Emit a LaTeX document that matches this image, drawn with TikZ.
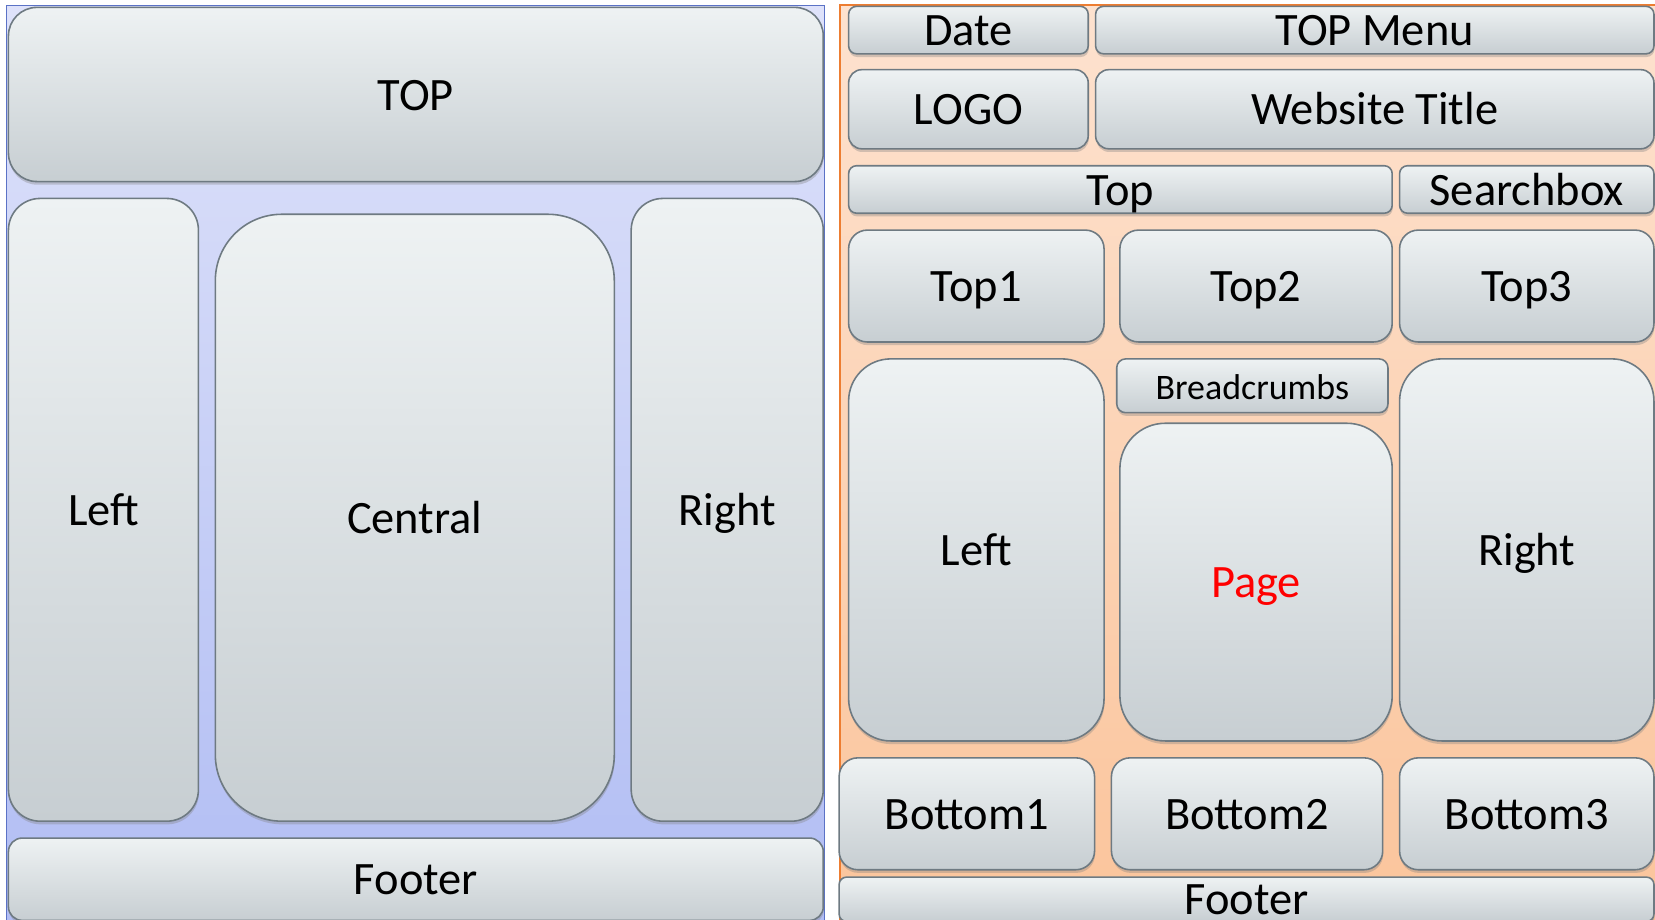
\documentclass[tikz,border=0pt]{standalone}
\usepackage{fontspec}
\setmainfont{Carlito}
\usetikzlibrary{shadows}
\definecolor{boxtop}{HTML}{EEF2F3}
\definecolor{boxbot}{HTML}{C7CED2}
\definecolor{boxline}{HTML}{6E7A82}
\definecolor{bluetop}{HTML}{DEE2FA}
\definecolor{bluebot}{HTML}{B1BDF3}
\definecolor{blueline}{HTML}{5B72C6}
\definecolor{ortop}{HTML}{FDE2CF}
\definecolor{orbot}{HTML}{FBC49B}
\definecolor{orline}{HTML}{ED7D31}
\tikzset{
  bx/.style={draw=boxline, line width=1.5pt, top color=boxtop, bottom color=boxbot,
    drop shadow={shadow xshift=0.5pt, shadow yshift=-3pt, opacity=0.35},
    font=\fontsize{44}{50}\selectfont, inner sep=0pt, text=black,
    text height=35pt, text depth=5.4pt},
  small/.style={font=\fontsize{34}{40}\selectfont, text height=30pt, text depth=4.4pt},
}
\begin{document}
\begin{tikzpicture}[x=1pt,y=-1pt]
\useasboundingbox (0,0) rectangle (1568,871);
\fill[white] (0,0) rectangle (1568,871);
% panels
\path[draw=blueline, line width=1.2pt, top color=bluetop, bottom color=bluebot] (6,5) rectangle (781,878);
\path[draw=orline, line width=2pt, top color=ortop, bottom color=orbot] (796,5) rectangle (1570,878);
% left layout
\node[bx, minimum width=772pt, minimum height=165pt, rounded corners=27pt] (top) at (394,89.5) {TOP};
\node[bx, minimum width=180pt, minimum height=590pt, rounded corners=30pt] (leftA) at (98,483) {Left};
\node[bx, minimum width=378pt, minimum height=575pt, rounded corners=63pt] (central) at (393,490.5) {Central};
\node[bx, minimum width=182pt, minimum height=590pt, rounded corners=30pt] (rightA) at (689,483) {Right};
\node[bx, minimum width=772pt, minimum height=78pt, rounded corners=13pt] (footA) at (394,833) {Footer};
% right layout
\node[bx, minimum width=227pt, minimum height=45pt, rounded corners=7.5pt] (date) at (917.5,28.5) {Date};
\node[bx, minimum width=529pt, minimum height=45pt, rounded corners=7.5pt] (menu) at (1302.5,28.5) {TOP Menu};
\node[bx, minimum width=227pt, minimum height=75pt, rounded corners=12.5pt] (logo) at (917.5,103.5) {LOGO};
\node[bx, minimum width=529pt, minimum height=75pt, rounded corners=12.5pt] (title) at (1302.5,103.5) {Website Title};
\node[bx, minimum width=515pt, minimum height=45pt, rounded corners=7.5pt] (topbar) at (1061.5,179.5) {Top};
\node[bx, minimum width=241pt, minimum height=45pt, rounded corners=7.5pt] (search) at (1446.5,179.5) {Searchbox};
\node[bx, minimum width=242pt, minimum height=106pt, rounded corners=17.7pt] (top1) at (925,271) {Top1};
\node[bx, minimum width=258pt, minimum height=106pt, rounded corners=17.7pt] (top2) at (1190,271) {Top2};
\node[bx, minimum width=241pt, minimum height=106pt, rounded corners=17.7pt] (top3) at (1446.5,271) {Top3};
\node[bx, minimum width=242pt, minimum height=362pt, rounded corners=40pt] (leftB) at (925,521) {Left};
\node[bx, small, minimum width=257pt, minimum height=51pt, rounded corners=8.5pt] (crumbs) at (1186.5,365.5) {Breadcrumbs};
\node[bx, minimum width=258pt, minimum height=301pt, rounded corners=43pt, text=red] (page) at (1190,551.5) {Page};
\node[bx, minimum width=241pt, minimum height=362pt, rounded corners=40pt] (rightB) at (1446.5,521) {Right};
\node[bx, minimum width=242pt, minimum height=106pt, rounded corners=17.7pt] (bot1) at (916,771) {Bottom1};
\node[bx, minimum width=257pt, minimum height=106pt, rounded corners=17.7pt] (bot2) at (1181.5,771) {Bottom2};
\node[bx, minimum width=241pt, minimum height=106pt, rounded corners=17.7pt] (bot3) at (1446.5,771) {Bottom3};
\node[bx, minimum width=772pt, minimum height=42pt, rounded corners=7pt] (footB) at (1181,852) {Footer};
\end{tikzpicture}
\end{document}
